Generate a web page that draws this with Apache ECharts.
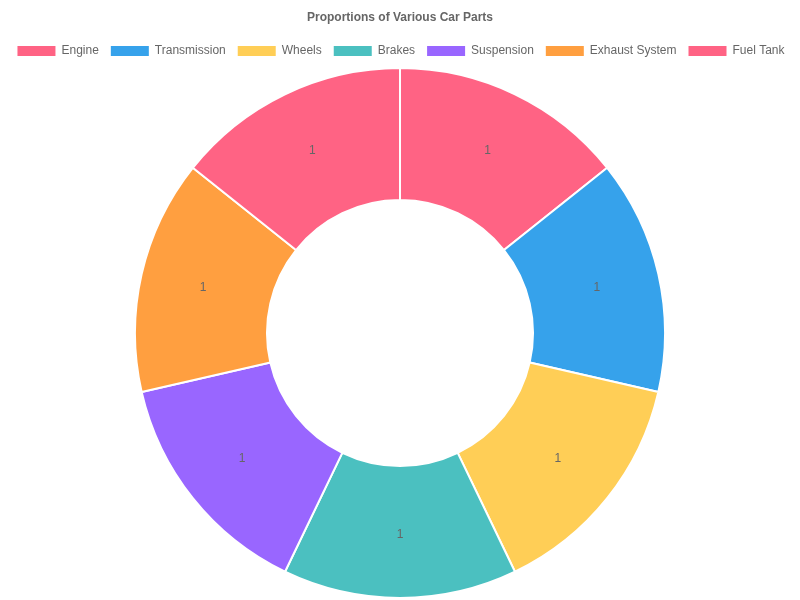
<!DOCTYPE html>
<html><head><meta charset="utf-8">
<script src="https://cdn.jsdelivr.net/npm/echarts@6/dist/echarts.min.js"></script>
<style>html,body{margin:0;padding:0;background:#fff}#c{width:800px;height:600px}</style>
</head><body><div id="c"></div>
<script>
const categories = ["Engine","Transmission","Wheels","Brakes","Suspension","Exhaust System","Fuel Tank"];
const values = [1,1,1,1,1,1,1];
const colors = ["#FF6384","#36A2EB","#FFCE56","#4BC0C0","#9966FF","#FF9F40","#FF6384"];
const chart = echarts.init(document.getElementById('c'), null, {renderer:'canvas'});
chart.setOption({
  animation:false,
  title:{text:"Proportions of Various Car Parts",left:'center',top:7,textStyle:{fontSize:12,fontWeight:'bold',color:'#666',fontFamily:'Liberation Sans, Arial, sans-serif'}},
  legend:{top:39,left:'center',itemWidth:40,itemHeight:12,itemGap:10,icon:'rect',
    textStyle:{fontSize:12,color:'#666',fontFamily:'Liberation Sans, Arial, sans-serif'},
    data:categories.map((c,i)=>({name:c,itemStyle:{color:colors[i]}}))},
  series:[{type:'pie',center:[400,333],radius:[133,265],startAngle:90,clockwise:true,
    avoidLabelOverlap:false,
    itemStyle:{borderColor:'#fff',borderWidth:2},
    label:{show:true,position:'inside',formatter:'{c}',color:'#666',fontSize:12,fontFamily:'Liberation Sans, Arial, sans-serif'},
    labelLine:{show:false},
    emphasis:{disabled:true},
    data:categories.map((c,i)=>({name:c,value:values[i],itemStyle:{color:colors[i]}}))}]
});
</script></body></html>
